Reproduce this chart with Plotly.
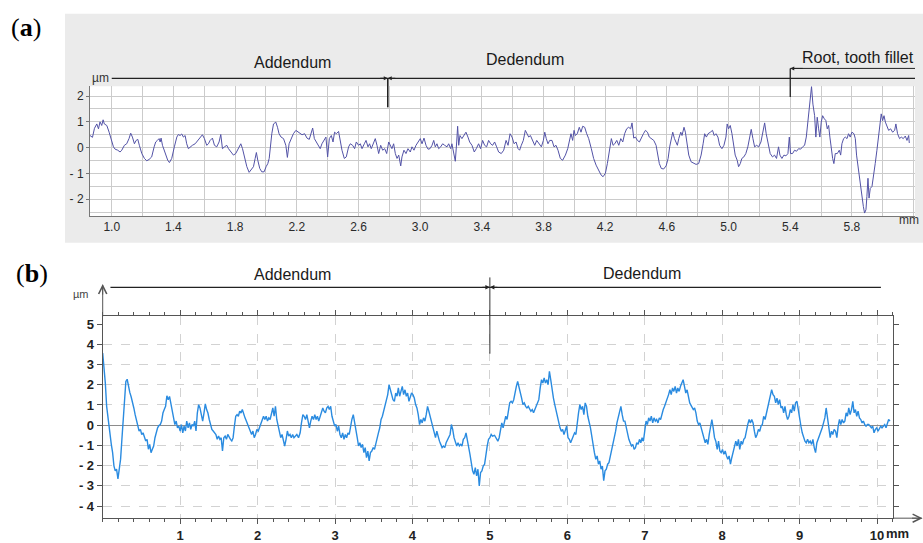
import plotly.graph_objects as go

# ---------------------------------------------------------------------------
# Surface profiles: (position along the flank in mm, deviation in µm)
# ---------------------------------------------------------------------------
PROFILE_A = [
    (0.859, 0.47), (0.875, 0.40), (0.888, 0.75), (0.903, 0.92), (0.914, 0.73), (0.924, 1.00),
    (0.935, 0.86), (0.944, 1.08), (0.952, 0.92), (0.968, 0.86), (0.983, 0.60), (1.000, 0.22),
    (1.011, 0.03), (1.022, -0.06), (1.039, -0.10), (1.054, -0.17), (1.065, -0.10), (1.082, 0.09),
    (1.097, 0.15), (1.112, 0.35), (1.123, 0.56), (1.134, 0.41), (1.147, 0.15), (1.158, 0.28),
    (1.169, 0.32), (1.179, 0.09), (1.195, -0.23), (1.212, -0.42), (1.227, -0.51), (1.242, -0.46),
    (1.259, -0.36), (1.275, 0.03), (1.285, 0.22), (1.296, 0.28), (1.307, 0.35), (1.314, 0.22),
    (1.320, 0.37), (1.329, 0.09), (1.346, -0.23), (1.363, -0.49), (1.374, -0.58), (1.389, -0.42),
    (1.406, 0.03), (1.422, 0.41), (1.432, 0.51), (1.443, 0.47), (1.454, 0.53), (1.465, 0.41),
    (1.476, 0.47), (1.486, 0.15), (1.497, -0.04), (1.508, 0.03), (1.523, 0.09), (1.541, 0.15),
    (1.558, 0.28), (1.573, 0.37), (1.588, 0.50), (1.601, 0.35), (1.616, 0.09), (1.627, 0.15),
    (1.638, 0.28), (1.653, 0.37), (1.666, 0.09), (1.681, 0.03), (1.696, 0.22), (1.707, 0.51),
    (1.718, -0.04), (1.731, 0.03), (1.746, 0.09), (1.757, -0.04), (1.774, -0.19), (1.789, -0.29),
    (1.804, -0.23), (1.822, -0.04), (1.837, 0.15), (1.848, -0.04), (1.861, -0.42), (1.876, -0.74),
    (1.891, -0.96), (1.904, -0.87), (1.919, -0.74), (1.930, -0.42), (1.938, -0.19), (1.947, -0.49),
    (1.960, -0.81), (1.973, -0.94), (1.988, -0.94), (2.001, -0.74), (2.012, -0.62), (2.021, -0.42),
    (2.027, 0.03), (2.038, 0.54), (2.049, 0.92), (2.064, 0.99), (2.075, 0.79), (2.085, 0.54),
    (2.098, 0.41), (2.114, 0.35), (2.129, 0.09), (2.139, -0.38), (2.150, 0.15), (2.163, 0.35),
    (2.178, 0.54), (2.194, 0.67), (2.212, 0.60), (2.234, 0.50), (2.251, 0.54), (2.266, 0.37),
    (2.281, 0.32), (2.294, 0.54), (2.303, 0.76), (2.314, 0.35), (2.324, 0.24), (2.337, 0.09),
    (2.352, -0.04), (2.363, 0.15), (2.374, 0.28), (2.389, 0.41), (2.400, -0.36), (2.411, 0.35),
    (2.424, 0.47), (2.435, 0.22), (2.445, 0.60), (2.456, 0.54), (2.471, 0.63), (2.482, 0.28),
    (2.493, -0.10), (2.508, -0.42), (2.521, -0.36), (2.536, 0.03), (2.547, 0.15), (2.562, 0.09),
    (2.575, -0.04), (2.586, 0.22), (2.601, 0.09), (2.612, 0.15), (2.623, -0.04), (2.638, 0.15),
    (2.649, 0.28), (2.662, 0.03), (2.672, 0.15), (2.683, -0.04), (2.698, 0.22), (2.709, 0.35),
    (2.720, 0.09), (2.731, -0.23), (2.744, 0.09), (2.757, -0.10), (2.770, -0.04), (2.783, -0.23),
    (2.796, 0.22), (2.806, 0.09), (2.817, -0.04), (2.828, 0.15), (2.839, -0.23), (2.850, -0.42),
    (2.861, -0.29), (2.874, -0.71), (2.882, -0.36), (2.895, -0.10), (2.908, -0.23), (2.921, -0.04),
    (2.936, -0.17), (2.947, 0.03), (2.960, -0.10), (2.973, 0.09), (2.986, 0.22), (3.001, 0.35),
    (3.012, 0.15), (3.025, 0.37), (3.038, 0.09), (3.051, -0.06), (3.064, -0.04), (3.077, 0.09),
    (3.088, 0.28), (3.098, 0.03), (3.109, 0.15), (3.120, -0.04), (3.133, 0.03), (3.146, 0.15),
    (3.159, 0.09), (3.174, 0.03), (3.185, 0.15), (3.198, -0.04), (3.206, 0.15), (3.219, -0.29),
    (3.228, -0.53), (3.237, 0.22), (3.243, 0.83), (3.250, 0.09), (3.258, 0.47), (3.271, 0.35),
    (3.282, 0.47), (3.297, 0.60), (3.310, 0.41), (3.321, 0.22), (3.336, 0.09), (3.351, -0.17),
    (3.364, -0.04), (3.379, 0.15), (3.392, -0.04), (3.405, 0.28), (3.418, 0.09), (3.431, 0.03),
    (3.444, 0.28), (3.457, 0.15), (3.470, 0.09), (3.483, 0.22), (3.496, 0.03), (3.509, -0.17),
    (3.526, -0.23), (3.542, -0.10), (3.557, 0.28), (3.570, 0.09), (3.583, 0.54), (3.596, 0.41),
    (3.609, 0.15), (3.622, 0.22), (3.635, -0.04), (3.645, -0.10), (3.656, 0.09), (3.669, 0.28),
    (3.682, 0.67), (3.693, 0.54), (3.704, 0.41), (3.715, 0.47), (3.730, 0.28), (3.743, 0.09),
    (3.756, 0.28), (3.769, 0.15), (3.786, 0.03), (3.799, 0.28), (3.808, 0.60), (3.818, 0.35),
    (3.829, 0.15), (3.840, 0.28), (3.855, 0.28), (3.868, 0.03), (3.881, 0.09), (3.894, -0.10),
    (3.909, -0.42), (3.924, -0.49), (3.942, -0.29), (3.957, -0.04), (3.970, 0.35), (3.978, 0.54),
    (3.989, 0.28), (3.998, 0.67), (4.006, 0.47), (4.019, 0.54), (4.032, 0.79), (4.043, 0.60),
    (4.054, 0.83), (4.067, 0.79), (4.080, 0.54), (4.093, 0.35), (4.110, -0.04), (4.125, -0.42),
    (4.141, -0.68), (4.158, -0.87), (4.173, -1.06), (4.186, -1.13), (4.201, -1.00), (4.214, -0.62),
    (4.227, -0.04), (4.240, 0.35), (4.251, 0.09), (4.262, 0.15), (4.275, 0.28), (4.288, 0.09),
    (4.301, 0.35), (4.314, 0.22), (4.326, 0.54), (4.339, 0.73), (4.352, 0.79), (4.365, 0.73),
    (4.374, 0.96), (4.385, 0.37), (4.396, 0.41), (4.409, 0.28), (4.422, 0.22), (4.435, 0.41),
    (4.448, 0.54), (4.461, 0.67), (4.474, 0.60), (4.486, 0.41), (4.499, 0.35), (4.515, 0.28),
    (4.530, 0.09), (4.541, -0.29), (4.551, -0.62), (4.564, -0.81), (4.579, -0.83), (4.595, -0.71),
    (4.608, -0.42), (4.618, 0.03), (4.629, 0.41), (4.638, 0.60), (4.649, 0.35), (4.659, 0.22),
    (4.668, 0.09), (4.677, 0.35), (4.690, 0.60), (4.698, 0.47), (4.711, 0.79), (4.720, 0.60),
    (4.731, 0.22), (4.742, -0.29), (4.757, -0.55), (4.774, -0.62), (4.789, -0.65), (4.806, -0.62),
    (4.822, -0.29), (4.835, 0.15), (4.845, 0.54), (4.856, 0.41), (4.867, 0.54), (4.882, 0.60),
    (4.896, 0.67), (4.907, 0.47), (4.918, 0.54), (4.931, 0.41), (4.942, 0.09), (4.957, -0.04),
    (4.970, 0.09), (4.983, 0.41), (4.991, 0.92), (5.000, 0.73), (5.011, 0.86), (5.022, 0.54),
    (5.032, 0.09), (5.043, -0.29), (5.056, -0.49), (5.065, -0.74), (5.076, -0.62), (5.086, -0.42),
    (5.099, -0.36), (5.112, -0.23), (5.125, 0.03), (5.138, 0.47), (5.147, 0.71), (5.158, 0.35),
    (5.169, 0.03), (5.182, 0.09), (5.195, 0.03), (5.210, 0.22), (5.223, 0.60), (5.234, 0.96),
    (5.244, 0.54), (5.255, 0.15), (5.270, -0.23), (5.285, -0.36), (5.298, -0.29), (5.311, -0.42),
    (5.324, 0.03), (5.333, -0.29), (5.346, -0.42), (5.359, -0.29), (5.372, -0.32), (5.385, -0.23),
    (5.394, 0.41), (5.402, -0.23), (5.415, -0.23), (5.428, -0.10), (5.441, -0.14), (5.454, -0.04),
    (5.467, -0.06), (5.480, 0.03), (5.493, 0.09), (5.504, 0.41), (5.515, 1.05), (5.523, 1.50),
    (5.532, 1.88), (5.538, 2.37), (5.547, 1.69), (5.558, 1.24), (5.566, 0.41), (5.575, 1.18),
    (5.584, 0.73), (5.592, 0.41), (5.601, 0.99), (5.610, 1.24), (5.621, 1.12), (5.631, 1.05),
    (5.640, 0.73), (5.649, 0.86), (5.657, 0.41), (5.666, -0.04), (5.675, -0.42), (5.683, -0.62),
    (5.692, -0.23), (5.705, -0.23), (5.718, -0.10), (5.727, -0.29), (5.735, 0.15), (5.746, 0.35),
    (5.757, 0.41), (5.768, 0.35), (5.778, 0.54), (5.789, 0.41), (5.800, 0.60), (5.813, 0.54),
    (5.822, 0.35), (5.830, -0.29), (5.839, -0.74), (5.847, -1.00), (5.856, -1.45), (5.865, -1.96),
    (5.874, -2.28), (5.882, -2.54), (5.891, -2.41), (5.897, -1.90), (5.904, -1.19), (5.911, -1.96),
    (5.919, -1.58), (5.930, -1.51), (5.941, -1.13), (5.951, -0.62), (5.962, -0.10), (5.973, 0.41),
    (5.982, 0.73), (5.990, 1.31), (5.999, 1.05), (6.008, 1.24), (6.017, 0.99), (6.027, 0.79),
    (6.038, 0.67), (6.051, 0.73), (6.064, 0.60), (6.077, 0.67), (6.085, 0.92), (6.096, 0.54),
    (6.109, 0.35), (6.120, 0.41), (6.133, 0.35), (6.146, 0.45), (6.157, 0.28), (6.168, 0.47),
    (6.172, 0.18),
]

PROFILE_B = [
    (0.000, 3.56), (0.017, 2.98), (0.034, 2.08), (0.051, 0.93), (0.064, 0.52), (0.081, -0.05),
    (0.094, -0.70), (0.111, -0.95), (0.128, -1.36), (0.145, -2.01), (0.162, -2.26), (0.179, -2.17),
    (0.197, -2.66), (0.214, -2.17), (0.231, -1.68), (0.248, -0.70), (0.265, 0.44), (0.282, 1.42),
    (0.299, 2.16), (0.316, 2.27), (0.333, 1.91), (0.350, 1.62), (0.368, 1.39), (0.385, 1.18),
    (0.402, 0.85), (0.419, 0.52), (0.436, 0.20), (0.453, -0.13), (0.470, -0.29), (0.487, -0.21),
    (0.504, -0.46), (0.521, -0.38), (0.538, -0.62), (0.556, -0.78), (0.573, -0.70), (0.590, -1.19),
    (0.607, -0.95), (0.624, -1.36), (0.641, -1.19), (0.658, -1.03), (0.675, -0.62), (0.692, -0.29),
    (0.709, -0.13), (0.726, -0.02), (0.744, 0.03), (0.761, 0.20), (0.778, 0.60), (0.795, 0.77),
    (0.812, 0.93), (0.829, 1.45), (0.846, 1.26), (0.863, 1.42), (0.880, 1.09), (0.897, 0.60),
    (0.915, 0.28), (0.932, 0.03), (0.949, 0.20), (0.966, -0.13), (0.983, -0.05), (1.000, -0.29),
    (1.017, 0.03), (1.034, -0.38), (1.051, -0.05), (1.068, -0.29), (1.085, 0.20), (1.103, -0.13),
    (1.120, 0.11), (1.137, -0.21), (1.154, 0.03), (1.171, -0.05), (1.188, 0.20), (1.205, -0.29),
    (1.222, 0.60), (1.239, 1.01), (1.256, 0.85), (1.274, 0.44), (1.291, 0.20), (1.308, 0.60),
    (1.325, 1.05), (1.342, 0.77), (1.359, 0.60), (1.376, 0.28), (1.393, 0.03), (1.410, -0.21),
    (1.427, -0.29), (1.444, -0.38), (1.462, -0.46), (1.479, -0.70), (1.496, -0.54), (1.513, -0.70),
    (1.530, -0.62), (1.547, -1.27), (1.564, -0.62), (1.581, -0.54), (1.598, -0.70), (1.615, -0.46),
    (1.632, -0.62), (1.650, -0.70), (1.667, -0.78), (1.684, -0.62), (1.701, -0.05), (1.718, 0.44),
    (1.735, 0.52), (1.752, 0.44), (1.769, 0.69), (1.786, 0.60), (1.803, 0.77), (1.821, 0.52),
    (1.838, 0.36), (1.855, 0.20), (1.872, 0.03), (1.889, -0.13), (1.906, -0.29), (1.923, -0.46),
    (1.940, -0.29), (1.957, -0.62), (1.974, -0.46), (1.991, -0.21), (2.009, -0.29), (2.026, -0.13),
    (2.043, 0.11), (2.060, 0.20), (2.077, 0.44), (2.094, 0.28), (2.111, 0.44), (2.128, 0.20),
    (2.145, 0.36), (2.162, 0.28), (2.179, 0.60), (2.197, 0.85), (2.214, 0.44), (2.231, 0.93),
    (2.248, 0.28), (2.265, -0.05), (2.282, -0.29), (2.299, -0.62), (2.316, -0.46), (2.333, -0.78),
    (2.350, -1.03), (2.368, -0.70), (2.385, -0.29), (2.402, -0.54), (2.419, -0.46), (2.436, -0.62),
    (2.453, -0.46), (2.470, -0.62), (2.487, -0.54), (2.507, -0.46), (2.529, -0.62), (2.550, -0.38),
    (2.567, 0.11), (2.585, 0.52), (2.602, 0.44), (2.619, 0.28), (2.636, 0.52), (2.653, 0.20),
    (2.670, -0.13), (2.687, 0.20), (2.704, 0.44), (2.722, 0.28), (2.739, 0.52), (2.756, 0.28),
    (2.773, 0.44), (2.790, 0.20), (2.807, 0.44), (2.824, 0.69), (2.842, 0.85), (2.859, 0.69),
    (2.876, 0.61), (2.893, 0.85), (2.910, 0.93), (2.927, 0.77), (2.944, 0.93), (2.961, 0.44),
    (2.979, 0.11), (2.996, -0.05), (3.013, 0.03), (3.030, -0.30), (3.047, -0.05), (3.064, -0.46),
    (3.081, -0.62), (3.099, -0.38), (3.116, -0.70), (3.133, -0.46), (3.150, -0.62), (3.167, -0.38),
    (3.184, -0.46), (3.201, -0.05), (3.218, 0.28), (3.236, 0.52), (3.253, 0.20), (3.270, -0.30),
    (3.287, -0.62), (3.304, -1.03), (3.321, -0.87), (3.338, -1.11), (3.355, -0.95), (3.373, -1.36),
    (3.390, -1.11), (3.407, -1.61), (3.424, -1.28), (3.441, -1.77), (3.458, -1.36), (3.475, -1.28),
    (3.493, -1.11), (3.510, -1.20), (3.527, -0.87), (3.544, -0.70), (3.561, -0.38), (3.578, -0.13),
    (3.595, 0.28), (3.612, 0.44), (3.630, 0.69), (3.647, 0.93), (3.664, 1.18), (3.681, 1.51),
    (3.698, 2.00), (3.715, 1.75), (3.732, 1.43), (3.749, 1.26), (3.767, 1.18), (3.784, 1.59),
    (3.801, 1.43), (3.818, 1.84), (3.835, 1.43), (3.852, 1.67), (3.869, 1.92), (3.886, 1.51),
    (3.904, 1.75), (3.921, 1.43), (3.938, 1.59), (3.955, 1.18), (3.972, 1.34), (3.989, 1.59),
    (4.006, 1.51), (4.024, 1.34), (4.041, 1.02), (4.058, 0.85), (4.075, 0.52), (4.092, 0.03),
    (4.109, 0.28), (4.126, 0.11), (4.143, 0.36), (4.161, 0.20), (4.178, 0.52), (4.195, 0.93),
    (4.212, 0.69), (4.229, 0.44), (4.246, 0.20), (4.263, -0.05), (4.280, -0.38), (4.298, -0.62),
    (4.315, -0.30), (4.332, -0.62), (4.349, -0.79), (4.366, -0.95), (4.383, -1.11), (4.400, -1.03),
    (4.418, -1.11), (4.435, -0.87), (4.452, -0.70), (4.469, -0.54), (4.486, -0.46), (4.503, 0.03),
    (4.520, -0.21), (4.537, -0.62), (4.555, -0.87), (4.572, -1.03), (4.589, -0.87), (4.606, -1.03),
    (4.623, -0.95), (4.640, -1.03), (4.657, -0.70), (4.675, -0.62), (4.692, -0.38), (4.709, -0.70),
    (4.726, -1.03), (4.743, -1.44), (4.760, -1.85), (4.777, -2.26), (4.794, -2.43), (4.812, -2.10),
    (4.829, -2.51), (4.846, -2.18), (4.863, -3.00), (4.880, -2.34), (4.897, -2.26), (4.914, -2.02),
    (4.932, -1.93), (4.949, -1.36), (4.966, -1.03), (4.983, -0.70), (5.000, -0.62), (5.017, -0.46),
    (5.034, -0.54), (5.060, -0.50), (5.081, -0.62), (5.103, -0.79), (5.120, -0.62), (5.137, -0.30),
    (5.154, 0.11), (5.171, -0.13), (5.188, 0.20), (5.205, 0.44), (5.222, 0.28), (5.239, 0.77),
    (5.256, 1.10), (5.274, 1.18), (5.291, 1.10), (5.308, 1.26), (5.325, 1.67), (5.342, 1.92),
    (5.359, 2.16), (5.376, 1.92), (5.393, 1.67), (5.410, 1.34), (5.427, 1.02), (5.444, 1.10),
    (5.462, 0.93), (5.479, 0.85), (5.496, 0.93), (5.513, 0.77), (5.530, 0.69), (5.547, 0.77),
    (5.564, 0.61), (5.581, 0.77), (5.598, 0.93), (5.615, 1.10), (5.632, 1.26), (5.650, 1.84),
    (5.667, 2.25), (5.684, 2.08), (5.701, 2.33), (5.718, 2.08), (5.735, 2.25), (5.752, 2.00),
    (5.769, 2.66), (5.786, 2.25), (5.803, 1.75), (5.821, 1.34), (5.838, 1.02), (5.855, 0.69),
    (5.872, 0.36), (5.889, 0.03), (5.906, -0.13), (5.923, -0.30), (5.940, -0.21), (5.957, -0.46),
    (5.974, -0.30), (5.991, -0.05), (6.009, -0.62), (6.026, -0.70), (6.043, -0.87), (6.060, -0.70),
    (6.077, -0.62), (6.094, -0.38), (6.111, -0.46), (6.128, 0.20), (6.145, 0.61), (6.162, 1.02),
    (6.179, 0.77), (6.197, 0.93), (6.214, 0.52), (6.231, 1.10), (6.248, 0.93), (6.265, 0.44),
    (6.282, 0.20), (6.299, -0.13), (6.316, -0.54), (6.333, -1.03), (6.350, -1.36), (6.368, -1.69),
    (6.385, -1.52), (6.402, -1.93), (6.419, -1.77), (6.436, -2.18), (6.453, -2.02), (6.470, -2.75),
    (6.487, -2.26), (6.504, -2.18), (6.521, -1.93), (6.538, -1.85), (6.556, -1.52), (6.573, -1.28),
    (6.590, -0.87), (6.607, -0.70), (6.624, -0.30), (6.641, 0.11), (6.658, 0.44), (6.675, 0.69),
    (6.692, 0.93), (6.709, 0.52), (6.726, 0.20), (6.744, 0.20), (6.761, -0.13), (6.778, -0.46),
    (6.795, -0.70), (6.812, -0.87), (6.829, -1.03), (6.846, -0.95), (6.863, -1.20), (6.880, -1.11),
    (6.897, -0.87), (6.915, -0.95), (6.932, -0.70), (6.949, -0.87), (6.966, -0.62), (6.983, -0.79),
    (7.000, -0.21), (7.017, 0.20), (7.034, 0.03), (7.051, 0.36), (7.068, 0.20), (7.085, 0.44),
    (7.103, 0.11), (7.120, 0.36), (7.137, 0.20), (7.154, 0.28), (7.171, 0.11), (7.188, 0.36),
    (7.205, 0.28), (7.222, 0.61), (7.239, 0.77), (7.256, 0.93), (7.274, 1.10), (7.291, 1.34),
    (7.308, 1.51), (7.325, 1.75), (7.342, 1.51), (7.359, 1.84), (7.376, 1.67), (7.393, 1.92),
    (7.410, 1.59), (7.427, 1.84), (7.444, 1.67), (7.462, 1.92), (7.479, 2.08), (7.496, 2.25),
    (7.513, 1.92), (7.530, 1.59), (7.547, 1.75), (7.564, 1.43), (7.581, 1.10), (7.605, 0.93),
    (7.627, 0.77), (7.644, 0.85), (7.661, 0.61), (7.678, 0.20), (7.695, 0.03), (7.712, 0.11),
    (7.730, -0.13), (7.747, -0.38), (7.764, -0.54), (7.781, -0.87), (7.798, -0.70), (7.815, -0.95),
    (7.833, -0.46), (7.850, -0.13), (7.867, 0.28), (7.884, -0.13), (7.901, -0.62), (7.918, -0.79),
    (7.936, -1.20), (7.953, -0.79), (7.970, -1.28), (7.987, -1.36), (8.004, -1.20), (8.021, -1.44),
    (8.039, -1.28), (8.056, -1.52), (8.073, -1.69), (8.090, -1.52), (8.107, -1.93), (8.124, -1.61),
    (8.142, -1.36), (8.159, -1.03), (8.176, -0.79), (8.193, -1.03), (8.210, -0.70), (8.227, -1.20),
    (8.245, -0.79), (8.262, -0.95), (8.279, -0.70), (8.296, -0.62), (8.313, -0.21), (8.330, 0.03),
    (8.348, 0.28), (8.365, 0.11), (8.382, 0.28), (8.399, 0.11), (8.416, -0.30), (8.433, -0.62),
    (8.451, -0.46), (8.468, -0.21), (8.485, -0.30), (8.502, -0.05), (8.519, 0.03), (8.536, 0.44),
    (8.554, 0.28), (8.571, 0.61), (8.588, 0.85), (8.605, 1.10), (8.622, 1.51), (8.639, 1.75),
    (8.657, 1.51), (8.674, 1.43), (8.691, 1.10), (8.708, 1.34), (8.725, 1.02), (8.742, 1.26),
    (8.760, 0.85), (8.777, 0.93), (8.794, 0.61), (8.811, 0.93), (8.828, 0.52), (8.845, 0.28),
    (8.863, 0.44), (8.880, 0.77), (8.897, 0.61), (8.914, 1.02), (8.931, 0.69), (8.948, 1.10),
    (8.966, 1.18), (8.983, 0.69), (9.000, 0.28), (9.017, -0.05), (9.034, -0.38), (9.052, -0.62),
    (9.069, -0.79), (9.086, -0.87), (9.103, -0.70), (9.120, -0.87), (9.137, -0.79), (9.155, -0.95),
    (9.172, -0.70), (9.189, -1.11), (9.206, -1.36), (9.223, -0.87), (9.240, -0.70), (9.258, -0.46),
    (9.275, -0.38), (9.292, -0.13), (9.309, 0.11), (9.326, 0.36), (9.343, 0.85), (9.361, 0.44),
    (9.378, -0.13), (9.395, -0.62), (9.412, -0.30), (9.429, -0.46), (9.446, -0.21), (9.464, -0.30),
    (9.481, -0.62), (9.498, -0.05), (9.515, 0.28), (9.532, 0.03), (9.549, 0.28), (9.567, 0.11),
    (9.584, 0.20), (9.601, 0.61), (9.618, 0.44), (9.635, 0.85), (9.652, 0.52), (9.670, 0.77),
    (9.687, 1.18), (9.704, 0.61), (9.721, 0.77), (9.738, 0.44), (9.755, 0.69), (9.773, 0.36),
    (9.790, 0.28), (9.807, 0.11), (9.824, 0.20), (9.841, 0.03), (9.858, -0.05), (9.876, 0.03),
    (9.893, 0.03), (9.910, -0.05), (9.927, -0.13), (9.944, -0.05), (9.961, -0.38), (9.979, -0.21),
    (9.996, -0.13), (10.013, -0.30), (10.030, -0.13), (10.047, -0.05), (10.064, -0.13), (10.082, -0.05),
    (10.099, 0.03), (10.116, -0.13), (10.133, 0.11), (10.150, 0.28), (10.167, 0.20),
]

a_mm, a_um = map(list, zip(*PROFILE_A))
b_mm, b_um = map(list, zip(*PROFILE_B))

# Axis ticks
A_XTICKS = [1.0, 1.4, 1.8, 2.2, 2.6, 3.0, 3.4, 3.8, 4.2, 4.6, 5.0, 5.4, 5.8]
A_XTICKTEXT = ["1.0", "1.4", "1.8", "2.2", "2.6", "3.0", "3.4", "3.8", "4.2", "4.6", "5.0", "5.4", "5.8"]
A_YTICKS = [-2, -1, 0, 1, 2]
A_YTICKTEXT = ["- 2", "- 1", "0", "1", "2"]
B_XTICKS = [1, 2, 3, 4, 5, 6, 7, 8, 9, 10]
B_XTICKTEXT = ["1", "2", "3", "4", "5", "6", "7", "8", "9", "10"]
B_YTICKS = [-4, -3, -2, -1, 0, 1, 2, 3, 4, 5]
B_YTICKTEXT = ["- 4", "- 3", "- 2", "- 1", "0", "1", "2", "3", "4", "5"]
B_YGRID = [-4, -3, -2, -1, 1, 2, 3, 4]

# Zone boundaries along the flank (mm)
A_ADDENDUM_END = 2.79
A_ROOT_START = 5.4
B_ADDENDUM_END = 5.0

SANS = "Liberation Sans, Arial, sans-serif"
SERIF = "Liberation Serif, Times New Roman, serif"
W, H = 923, 543

fig = go.Figure()
fig.add_trace(go.Scatter(x=a_mm, y=a_um, mode="lines", xaxis="x", yaxis="y",
                         line=dict(color="#5252a6", width=1), hoverinfo="skip"))
fig.add_trace(go.Scatter(x=b_mm, y=b_um, mode="lines", xaxis="x2", yaxis="y2",
                         line=dict(color="#2a8be0", width=1.4), hoverinfo="skip"))

GRID_A = "#cbcbcb"
GRID_B = "#d2d2d2"
AXIS = "#555555"

fig.update_layout(
    width=W, height=H, margin=dict(l=0, r=0, t=0, b=0),
    paper_bgcolor="white", plot_bgcolor="rgba(0,0,0,0)", showlegend=False,
    font=dict(family=SANS, color="#222222", size=12),
    xaxis=dict(
        domain=[90 / W, 915 / W], anchor="y", range=[0.859, 6.209],
        tickmode="array", tickvals=A_XTICKS, ticktext=A_XTICKTEXT, ticks="",
        tickfont=dict(size=12, color="#2a2a2a"),
        showgrid=True, gridcolor=GRID_A, gridwidth=1,
        minor=dict(tickmode="linear", tick0=1.0, dtick=0.2, showgrid=True, gridcolor=GRID_A),
        showline=True, linecolor="#777777", zeroline=False, fixedrange=True,
    ),
    yaxis=dict(
        domain=[1 - 218 / H, 1 - 87 / H], anchor="x", range=[-2.654, 2.385],
        tickmode="array", tickvals=A_YTICKS, ticktext=A_YTICKTEXT,
        ticks="outside", ticklen=3, tickcolor="#777777",
        tickfont=dict(size=12, color="#2a2a2a"),
        showgrid=True, gridcolor=GRID_A,
        minor=dict(tickmode="linear", tick0=0, dtick=0.5, showgrid=True, gridcolor=GRID_A),
        showline=True, linecolor="#777777", zeroline=False, fixedrange=True,
    ),
    xaxis2=dict(
        domain=[102.7 / W, 893.3 / W], anchor="y2", range=[0, 10.21],
        tickmode="array", tickvals=B_XTICKS, ticktext=B_XTICKTEXT,
        ticks="outside", ticklen=5, tickcolor=AXIS,
        tickfont=dict(size=13, color="#222222", weight="bold"),
        showgrid=True, gridcolor=GRID_B, griddash="dash",
        minor=dict(tickmode="linear", tick0=0, dtick=0.2, ticks="outside", ticklen=3,
                   tickcolor=AXIS, showgrid=False),
        showline=True, mirror="allticks", linecolor=AXIS, zeroline=False, fixedrange=True,
    ),
    yaxis2=dict(
        domain=[1 - 523 / H, 1 - 319.3 / H], anchor="x2", range=[-4.6, 5.38],
        tickmode="array", tickvals=B_YTICKS, ticktext=B_YTICKTEXT,
        ticks="outside", ticklen=5, tickcolor=AXIS,
        tickfont=dict(size=13, color="#222222", weight="bold"),
        showgrid=False,
        minor=dict(tickmode="array", tickvals=B_YGRID, showgrid=True, gridcolor=GRID_B,
                   griddash="dash", ticks=""),
        zeroline=True, zerolinecolor="#8c8c8c", zerolinewidth=1,
        showline=True, mirror="allticks", linecolor=AXIS, fixedrange=True,
    ),
)

shapes = [
    # grey panel behind profile (a) and its white plotting field
    dict(type="rect", xref="paper", yref="paper", x0=65 / W, x1=1, y0=1 - 245 / H, y1=1 - 14 / H,
         fillcolor="#ebebeb", line=dict(width=0), layer="below"),
    dict(type="rect", xref="x domain", yref="y domain", x0=0, x1=1, y0=0, y1=1,
         fillcolor="white", line=dict(width=0), layer="below"),
    # (a) zone bar
    dict(type="line", xref="x", yref="y domain", x0=1.0, x1=6.4, y0=1.061, y1=1.061,
         line=dict(color="#222222", width=1.3)),
    dict(type="line", xref="x", yref="y domain", x0=A_ADDENDUM_END, x1=A_ADDENDUM_END,
         y0=0.837, y1=1.061, line=dict(color="#222222", width=1.6)),
    dict(type="line", xref="x", yref="y domain", x0=A_ROOT_START, x1=6.4, y0=1.137, y1=1.137,
         line=dict(color="#222222", width=1)),
    dict(type="line", xref="x", yref="y domain", x0=A_ROOT_START, x1=A_ROOT_START,
         y0=0.916, y1=1.137, line=dict(color="#222222", width=1.3)),
    # (b) zone bar
    dict(type="line", xref="x2", yref="y2 domain", x0=0.1, x1=10.05, y0=1.144, y1=1.144,
         line=dict(color="#222222", width=1.3)),
    dict(type="line", xref="x2", yref="y2 domain", x0=B_ADDENDUM_END, x1=B_ADDENDUM_END,
         y0=0.815, y1=1.193, line=dict(color="#333333", width=1)),
    # (b) axis extensions beyond the frame
    dict(type="line", xref="x2 domain", yref="y2 domain", x0=0, x1=0, y0=1, y1=1.154,
         line=dict(color=AXIS, width=1)),
    dict(type="line", xref="x2 domain", yref="y2 domain", x0=1, x1=1.036, y0=0, y1=0,
         line=dict(color=AXIS, width=1)),
]
fig.update_layout(shapes=shapes)


def arrow(x, y, xref, yref, ax, ay, head=2, size=0.9, color="#222222", width=1):
    return dict(x=x, y=y, xref=xref, yref=yref, ax=ax, ay=ay, text="", showarrow=True,
                arrowhead=head, arrowsize=size, arrowwidth=width, arrowcolor=color,
                standoff=0, startstandoff=0)


def label(text, x, y, xref, yref, size=16, xanchor="center", yanchor="middle",
          family=SANS, color="#1a1a1a"):
    return dict(text=text, x=x, y=y, xref=xref, yref=yref, showarrow=False,
                xanchor=xanchor, yanchor=yanchor, font=dict(family=family, size=size, color=color))


annotations = [
    # panel letters
    label("(<b>a</b>)", 9 / W, 1 - 28 / H, "paper", "paper", size=26, xanchor="left", family=SERIF,
          color="#000000"),
    label("(<b>b</b>)", 14 / W, 1 - 276 / H, "paper", "paper", size=26, xanchor="left", family=SERIF,
          color="#000000"),
    # (a) zone labels and units
    label("Addendum", 2.17, 1.183, "x", "y domain"),
    label("Dedendum", 3.68, 1.206, "x", "y domain"),
    label("Root, tooth fillet", 5.84, 1.221, "x", "y domain"),
    label("µm", 0.0, 1.061, "x domain", "y domain", size=12, xanchor="left", color="#333333"),
    label("mm", 921 / W, 1 - 222 / H, "paper", "paper", size=12, xanchor="right", color="#333333"),
    arrow(A_ADDENDUM_END, 1.061, "x", "y domain", -9, 0, size=0.8),
    arrow(A_ADDENDUM_END, 1.061, "x", "y domain", 9, 0, size=0.8),
    arrow(A_ROOT_START, 1.137, "x", "y domain", 14, 0, size=0.8),
    # (b) zone labels and units
    label("Addendum", 2.45, 1.208, "x2", "y2 domain"),
    label("Dedendum", 6.97, 1.213, "x2", "y2 domain"),
    label("µm", -0.028, 1.109, "x2 domain", "y2 domain", size=11, color="#444444"),
    label("<b>mm</b>", 10.095, -0.075, "x2", "y2 domain", size=13, xanchor="left", color="#222222"),
    arrow(B_ADDENDUM_END, 1.144, "x2", "y2 domain", -9, 0, size=0.9),
    arrow(B_ADDENDUM_END, 1.144, "x2", "y2 domain", 9, 0, size=0.9),
    # (b) axis arrow tips
    arrow(0, 1.16, "x2 domain", "y2 domain", 0, 12, head=5, size=1.6, color=AXIS),
    arrow(1.037, 0, "x2 domain", "y2 domain", -12, 0, head=5, size=1.6, color=AXIS),
]
fig.update_layout(annotations=annotations)

fig.write_html("out.html")
